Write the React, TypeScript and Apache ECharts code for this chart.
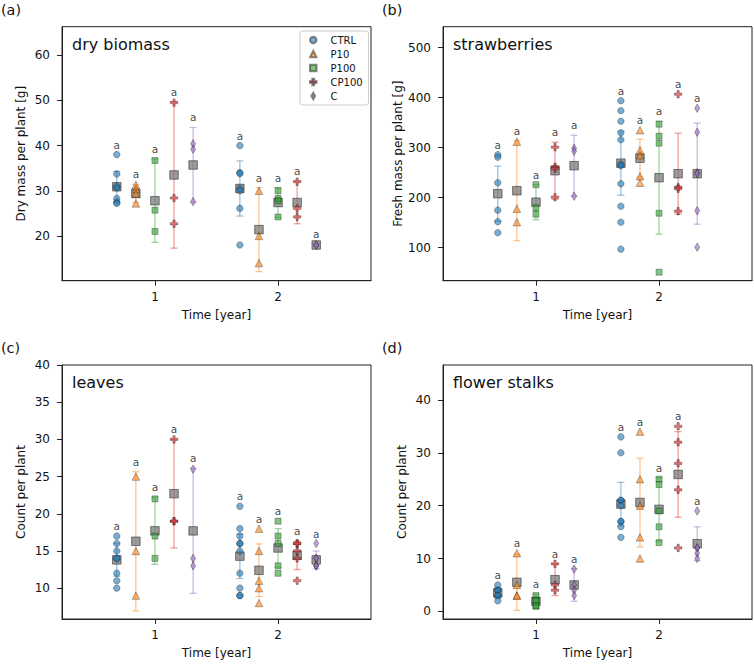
import React, { useEffect, useRef } from 'react';
import * as echarts from 'echarts';

const treatments = ['CTRL', 'P10', 'P100', 'CP100', 'C'];
const years = [1, 2];

// (a) dry biomass [g] — points per treatment, year 1 and year 2
const dryY1 = [[38.0, 33.7, 31.0, 30.6, 28.3, 27.5, 27.2], [31.3, 30.4, 29.4, 27.2], [36.7, 25.7, 21.0], [49.5, 28.4, 22.7], [40.4, 39.2, 27.6]];
const dryY2 = [[40.0, 34.0, 33.8, 30.5, 30.0, 26.1, 18.0], [30.0, 20.0, 14.0], [30.0, 28.3, 27.8, 24.2], [32.0, 26.1, 24.2], [18.0, 18.0]];
const dryMean = [[30.9, 29.4, 27.8, 33.5, 35.7], [30.5, 21.4, 27.4, 27.4, 18.0]];
const drySd = [[3.4, 2.0, 9.2, 16.2, 8.3], [6.1, 9.3, 3.3, 4.7, 0.3]];
const dryLetters = [['a', 'a', 'a', 'a', 'a'], ['a', 'a', 'a', 'a', 'a']];
const dryTicks = [20, 30, 40, 50, 60];

// (b) strawberries, fresh mass [g]
const fruitY1 = [[286, 281, 230, 175, 152, 130], [312, 178, 151], [226, 180, 167], [301, 262, 258, 201], [299, 293, 203]];
const fruitY2 = [[394, 374, 353, 330, 316, 267, 264, 228, 183, 151, 97], [335, 295, 285, 243, 230], [347, 323, 309, 169, 51], [407, 221, 218, 173], [379, 331, 250, 248, 174, 101]];
const fruitMean = [[208, 214, 191, 254, 264], [269, 279, 240, 248, 248]];
const fruitSd = [[55, 100, 35, 57, 61], [64, 38, 113, 81, 101]];
const fruitLetters = [['a', 'a', 'a', 'a', 'a'], ['a', 'a', 'a', 'a', 'a']];
const fruitTicks = [100, 200, 300, 400, 500];

// (c) leaves, count per plant
const leafY1 = [[17, 16, 15, 14, 14, 12, 11, 10], [25, 15, 9], [22, 17, 14], [30, 19, 19], [26, 14, 13]];
const leafY2 = [[21, 18, 17, 16, 16, 15, 12, 10, 9, 9], [18, 15, 11, 10, 8], [19, 17, 16, 13, 12], [16, 16, 15, 14, 11], [16, 14, 14, 13, 13, 13]];
const leafMean = [[13.8, 16.3, 17.7, 22.7, 17.7], [14.3, 12.4, 15.4, 14.4, 13.8]];
const leafSd = [[2.2, 9.35, 4.5, 7.3, 8.4], [3.0, 3.55, 2.6, 1.9, 1.2]];
const leafLetters = [['a', 'a', 'a', 'a', 'a'], ['a', 'a', 'a', 'a', 'a']];
const leafTicks = [10, 15, 20, 25, 30, 35, 40];

// (d) flower stalks, count per plant
const stalkY1 = [[5, 4, 4, 3, 3, 2], [11, 5, 3, 3], [3, 2, 2, 1, 1], [9, 5, 4], [8, 5, 4, 3]];
const stalkY2 = [[33, 30, 21, 21, 20, 17, 17, 16, 14], [34, 25, 20, 14, 10], [25, 24, 19, 16, 13], [35, 32, 28, 23, 12], [19, 12, 12, 11, 10]];
const stalkMean = [[3.5, 5.5, 1.9, 6.0, 5.0], [20.3, 20.6, 19.3, 25.9, 12.8]];
const stalkSd = [[1.0, 5.3, 1.3, 3.0, 3.1], [4.1, 8.4, 6.0, 8.1, 3.2]];
const stalkLetters = [['a', 'a', 'a', 'a', 'a'], ['a', 'a', 'a', 'a', 'a']];
const stalkTicks = [0, 10, 20, 30, 40];

const palette = ['#1f77b4', '#ff7f0e', '#2ca02c', '#d62728', '#9467bd'];
const groupOffsets = [-0.31, -0.155, 0, 0.155, 0.31];
const plusPath = 'path://M3.5,0H6.5V3.5H10V6.5H6.5V10H3.5V6.5H0V3.5H3.5Z';
const thinDiamond = 'path://M3,0L6,5L3,10L0,5Z';
const symbols = ['circle', 'triangle', 'rect', plusPath, thinDiamond];
const symbolSizes: any[] = [6.5, 7.5, 6, 7.5, [5, 8.5]];

const FONT = 'DejaVu Sans';
const GW = 309;
const GH = 254;

const panels = [
  { tag: '(a)', title: 'dry biomass', yName: 'Dry mass per plant [g]', y1: dryY1, y2: dryY2, mean: dryMean, sd: drySd, letters: dryLetters, ticks: dryTicks, ymin: 10.1, ymax: 66.3, left: 62, top: 26.7 },
  { tag: '(b)', title: 'strawberries', yName: 'Fresh mass per plant [g]', y1: fruitY1, y2: fruitY2, mean: fruitMean, sd: fruitSd, letters: fruitLetters, ticks: fruitTicks, ymin: 34, ymax: 542, left: 443, top: 26.7 },
  { tag: '(c)', title: 'leaves', yName: 'Count per plant', y1: leafY1, y2: leafY2, mean: leafMean, sd: leafSd, letters: leafLetters, ticks: leafTicks, ymin: 5.85, ymax: 40, left: 62, top: 365 },
  { tag: '(d)', title: 'flower stalks', yName: 'Count per plant', y1: stalkY1, y2: stalkY2, mean: stalkMean, sd: stalkSd, letters: stalkLetters, ticks: stalkTicks, ymin: -1.44, ymax: 46.6, left: 443, top: 365 },
];

function rgba(hex: string, a: number) {
  const n = parseInt(hex.slice(1), 16);
  return `rgba(${(n >> 16) & 255},${(n >> 8) & 255},${n & 255},${a})`;
}

function buildOption() {
  const grid: any[] = [];
  const xAxis: any[] = [];
  const yAxis: any[] = [];
  const series: any[] = [];
  const graphic: any[] = [];

  panels.forEach((p, pi) => {
    grid.push({ left: p.left, top: p.top, width: GW, height: GH, show: true, borderColor: '#222', borderWidth: 1, backgroundColor: 'transparent' });
    xAxis.push({
      type: 'value', gridIndex: pi, min: 0.245, max: 2.755,
      axisLine: { show: true, onZero: false, lineStyle: { color: '#222', width: 1 } },
      axisTick: { show: true, length: 5, customValues: years, lineStyle: { color: '#222' } },
      axisLabel: { customValues: years, margin: 10, fontSize: 12, color: '#111', fontFamily: FONT },
      splitLine: { show: false },
      name: 'Time [year]', nameLocation: 'middle', nameGap: 28,
      nameTextStyle: { fontSize: 12, color: '#111', fontFamily: FONT },
    });
    yAxis.push({
      type: 'value', gridIndex: pi, min: p.ymin, max: p.ymax,
      axisLine: { show: true, onZero: false, lineStyle: { color: '#222', width: 1 } },
      axisTick: { show: true, length: 5, customValues: p.ticks, lineStyle: { color: '#222' } },
      axisLabel: { customValues: p.ticks, margin: 12, fontSize: 12, color: '#111', fontFamily: FONT },
      splitLine: { show: false },
      name: p.yName, nameLocation: 'middle', nameGap: 35, nameRotate: 90,
      nameTextStyle: { fontSize: 12, color: '#111', fontFamily: FONT },
    });

    treatments.forEach((t, k) => {
      const data: number[][] = [];
      [p.y1, p.y2].forEach((arr, yi) => arr[k].forEach((v) => data.push([years[yi] + groupOffsets[k], v])));
      series.push({
        type: 'scatter', name: t, xAxisIndex: pi, yAxisIndex: pi, data,
        symbol: symbols[k], symbolSize: symbolSizes[k], z: 4, silent: true,
        itemStyle: { color: rgba(palette[k], 0.75), borderColor: 'rgba(20,20,20,0.6)', borderWidth: 0.7 },
      });
    });

    const meanData: any[] = [];
    const errData: any[] = [];
    const letterData: any[] = [];
    years.forEach((yr, yi) => {
      treatments.forEach((t, k) => {
        const x = yr + groupOffsets[k];
        const m = p.mean[yi][k];
        const s = p.sd[yi][k];
        const pts = (yi === 0 ? p.y1 : p.y2)[k];
        meanData.push([x, m]);
        errData.push([x, m, s, k]);
        letterData.push([x, Math.max(m + s, ...pts), p.letters[yi][k]]);
      });
    });

    series.push({
      type: 'custom', name: 'err' + pi, xAxisIndex: pi, yAxisIndex: pi, data: errData, z: 1, silent: true,
      renderItem: (params: any, api: any) => {
        const x = api.value(0);
        const m = api.value(1);
        const s = api.value(2);
        const k = api.value(3);
        const a = api.coord([x, m + s]);
        const b = api.coord([x, m - s]);
        const style = { stroke: rgba(palette[k], 0.45), lineWidth: 1.3 };
        const cw = 3.5;
        return {
          type: 'group',
          children: [
            { type: 'line', shape: { x1: a[0], y1: a[1], x2: b[0], y2: b[1] }, style },
            { type: 'line', shape: { x1: a[0] - cw, y1: a[1], x2: a[0] + cw, y2: a[1] }, style },
            { type: 'line', shape: { x1: b[0] - cw, y1: b[1], x2: b[0] + cw, y2: b[1] }, style },
          ],
        };
      },
    });
    series.push({
      type: 'scatter', name: 'mean' + pi, xAxisIndex: pi, yAxisIndex: pi, data: meanData, z: 3, silent: true,
      symbol: 'rect', symbolSize: 8.5,
      itemStyle: { color: 'rgba(118,118,118,0.9)', borderColor: 'rgba(40,40,40,0.9)', borderWidth: 0.8 },
    });
    series.push({
      type: 'scatter', name: 'letters' + pi, xAxisIndex: pi, yAxisIndex: pi, data: letterData, z: 5, silent: true,
      symbol: 'circle', symbolSize: 1, itemStyle: { color: 'rgba(0,0,0,0)' },
      label: { show: true, position: 'top', distance: 4, formatter: (q: any) => q.value[2], fontSize: 10.5, color: '#111', fontFamily: FONT },
    });

    graphic.push({ type: 'text', x: p.left - 61, y: p.top - 17, style: { text: p.tag, fontSize: 14.4, fontFamily: FONT, fill: '#111', verticalAlign: 'middle' } });
    graphic.push({ type: 'text', x: p.left + 10, y: p.top + 17.3, style: { text: p.title, fontSize: 16, fontFamily: FONT, fill: '#111', verticalAlign: 'middle' } });
  });

  return {
    animation: false,
    textStyle: { fontFamily: FONT },
    grid, xAxis, yAxis, series, graphic,
    legend: {
      data: treatments, orient: 'vertical', left: 300, top: 31,
      itemWidth: 6.5, itemHeight: 6.5, itemGap: 4,
      padding: [4, 6, 4, 9],
      borderColor: '#cccccc', borderWidth: 1, borderRadius: 3, backgroundColor: 'rgba(255,255,255,0.85)',
      textStyle: { fontSize: 10, color: '#111', fontFamily: FONT, padding: [0, 0, 0, 9] },
      selectedMode: false,
    },
  };
}

export default function App() {
  const ref = useRef<HTMLDivElement>(null);
  useEffect(() => {
    if (!ref.current) return;
    const chart = echarts.init(ref.current, undefined, { renderer: 'svg' });
    chart.setOption(buildOption() as any);
    return () => chart.dispose();
  }, []);
  return <div ref={ref} style={{ position: 'absolute', left: 0, top: 0, width: 754, height: 664, background: '#fff' }} />;
}
